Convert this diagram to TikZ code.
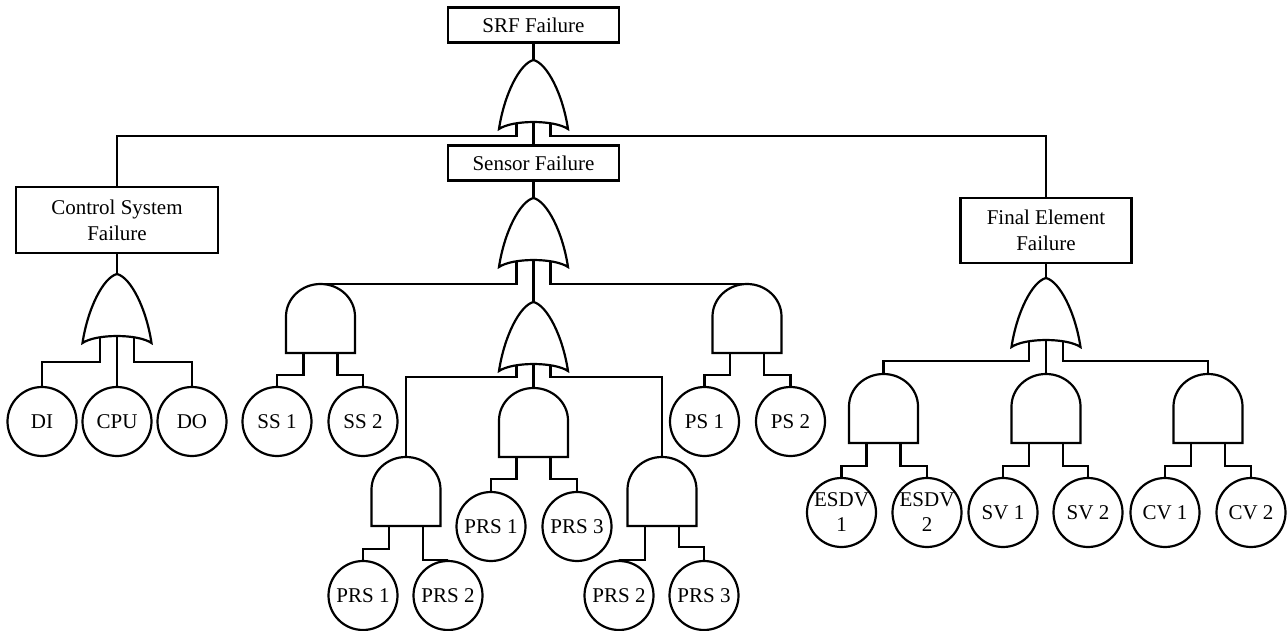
\documentclass[tikz,border=0pt]{standalone}
\usepackage{fontspec}
\setmainfont{Liberation Serif}

\begin{document}
\begin{tikzpicture}[
  x=0.5pt,y=-0.5pt,line width=1.1pt,
  box/.style={draw,align=center,inner sep=2pt,minimum width=85.5pt,minimum height=17.5pt,font=\fontsize{10.5}{13}\selectfont},
  basic/.style={draw,circle,align=center,inner sep=0pt,minimum size=34.5pt,font=\fontsize{10.5}{12.5}\selectfont},
  gate/.style={inner sep=0pt,outer sep=0pt,minimum size=34.5pt},
  orgate/.style={gate,append after command={\pgfextra{
    \draw[shift={(\tikzlastnode.center)}]
      (-17.25pt,-17.25pt) .. controls (-14.66pt,0pt) and (-6.9pt,15.5pt) .. (0pt,17.25pt)
      .. controls (6.9pt,15.5pt) and (14.66pt,0pt) .. (17.25pt,-17.25pt)
      .. controls (10.35pt,-12.6pt) and (-10.35pt,-12.6pt) .. (-17.25pt,-17.25pt) -- cycle;}}},
  andgate/.style={gate,append after command={\pgfextra{
    \draw[shift={(\tikzlastnode.center)}]
      (-17.25pt,-17.25pt) -- (-17.25pt,1pt)
      arc[start angle=180,end angle=0,x radius=17.25pt,y radius=16.25pt]
      -- (17.25pt,-17.25pt) -- cycle;}}}]
\useasboundingbox (0,0) rectangle (1287,631);

% events
\node[box] (srf) at (533.5,25) {SRF Failure};
\node[box] (sens) at (533.5,163) {Sensor Failure};
\node[box,minimum width=101pt,minimum height=33pt] (ctrl) at (117,220) {Control System\\Failure};
\node[box,minimum height=32.5pt] (fin) at (1046,230.5) {Final Element\\Failure};

% gates
\node[orgate] (or0) at (533.5,94.5) {};
\node[orgate] (orS) at (533.5,232.5) {};
\node[orgate] (orC) at (117,308.5) {};
\node[orgate] (orP) at (533.5,336.5) {};
\node[orgate] (orF) at (1046,312.5) {};
\node[andgate] (andSS) at (320.5,318.5) {};
\node[andgate] (andPS) at (747,318.5) {};
\node[andgate] (andP13) at (533.5,422.5) {};
\node[andgate] (andP12) at (406,491.5) {};
\node[andgate] (andP23) at (662,491.5) {};
\node[andgate] (andE) at (883.5,408.5) {};
\node[andgate] (andSV) at (1046,408.5) {};
\node[andgate] (andCV) at (1208,408.5) {};

% basic events
\node[basic] (di) at (42,421.5) {DI};
\node[basic] (cpu) at (117,421.5) {CPU};
\node[basic] (do) at (192,421.5) {DO};
\node[basic] (ss1) at (277,421.5) {SS 1};
\node[basic] (ss2) at (363,421.5) {SS 2};
\node[basic] (ps1) at (704.5,421.5) {PS 1};
\node[basic] (ps2) at (790.5,421.5) {PS 2};
\node[basic] (prs1a) at (491,526.5) {PRS 1};
\node[basic] (prs3a) at (577,526.5) {PRS 3};
\node[basic] (prs1b) at (363,595.5) {PRS 1};
\node[basic] (prs2b) at (448,595.5) {PRS 2};
\node[basic] (prs2c) at (619,595.5) {PRS 2};
\node[basic] (prs3c) at (704,595.5) {PRS 3};
\node[basic] (esdv1) at (841.5,512.5) {ESDV\\1};
\node[basic] (esdv2) at (927,512.5) {ESDV\\2};
\node[basic] (sv1) at (1003,512.5) {SV 1};
\node[basic] (sv2) at (1088,512.5) {SV 2};
\node[basic] (cv1) at (1165,512.5) {CV 1};
\node[basic] (cv2) at (1251,512.5) {CV 2};

% or gate inputs
\draw (srf) -- (or0);
\draw (or0.south) ++(-17,-6) -- ++(0,13) -| (ctrl.north);
\draw (or0.south) ++(0,-8) -- (sens.north);
\draw (or0.south) ++(17,-6) -- ++(0,13) -| (fin.north);

\draw (sens) -- (orS);
\draw (orS.south) ++(-17,-6) -- ++(0,23) -| (andSS.north);
\draw (orS.south) ++(0,-8) -- (orP.north);
\draw (orS.south) ++(17,-6) -- ++(0,23) -| (andPS.north);

\draw (ctrl) -- (orC);
\draw (orC.south) ++(-17,-6) -- ++(0,25) -| (di.north);
\draw (orC.south) ++(0,-8) -- (cpu.north);
\draw (orC.south) ++(17,-6) -- ++(0,25) -| (do.north);

\draw (orP.south) ++(-17,-6) -- ++(0,12) -| (andP12.north);
\draw (orP.south) ++(0,-8) -- (andP13.north);
\draw (orP.south) ++(17,-6) -- ++(0,12) -| (andP23.north);

\draw (fin) -- (orF);
\draw (orF.south) ++(-17,-6) -- ++(0,20) -| (andE.north);
\draw (orF.south) ++(0,-8) -- (andSV.north);
\draw (orF.south) ++(17,-6) -- ++(0,20) -| (andCV.north);

% and gate inputs
\draw (andSS.south) ++(-17,0) -- ++(0,22) -| (ss1.north);
\draw (andSS.south) ++(17,0) -- ++(0,22) -| (ss2.north);
\draw (andPS.south) ++(-17,0) -- ++(0,22) -| (ps1.north);
\draw (andPS.south) ++(17,0) -- ++(0,22) -| (ps2.north);
\draw (andP13.south) ++(-17,0) -- ++(0,22) -| (prs1a.north);
\draw (andP13.south) ++(17,0) -- ++(0,22) -| (prs3a.north);
\draw (andP12.south) ++(-17,0) -- ++(0,23) -| (prs1b.north);
\draw (andP12.south) ++(17,0) -- ++(0,34) -| (prs2b.north);
\draw (andP23.south) ++(-17,0) -- ++(0,34) -| (prs2c.north);
\draw (andP23.south) ++(17,0) -- ++(0,21) -| (prs3c.north);
\draw (andE.south) ++(-17,0) -- ++(0,23) -| (esdv1.north);
\draw (andE.south) ++(17,0) -- ++(0,23) -| (esdv2.north);
\draw (andSV.south) ++(-17,0) -- ++(0,23) -| (sv1.north);
\draw (andSV.south) ++(17,0) -- ++(0,23) -| (sv2.north);
\draw (andCV.south) ++(-17,0) -- ++(0,23) -| (cv1.north);
\draw (andCV.south) ++(17,0) -- ++(0,23) -| (cv2.north);
\end{tikzpicture}
\end{document}
